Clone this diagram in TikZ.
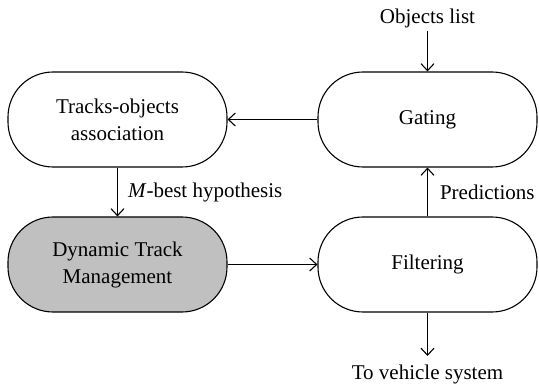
\documentclass[tikz,border=0pt]{standalone}
\usepackage{fontspec}
\setmainfont{Liberation Serif}
\usetikzlibrary{arrows.meta}
\begin{document}
\begin{tikzpicture}[x=1pt,y=-1pt,
  blk/.style={draw, line width=1.1pt, rounded corners=45pt, minimum width=219pt, minimum height=95pt, align=center, inner sep=0pt, font=\fontsize{21}{27}\selectfont},
  lbl/.style={inner sep=0pt, font=\fontsize{21}{27}\selectfont},
  conn/.style={line width=1.1pt, -{Straight Barb[length=7pt,width=13pt,line width=1.1pt]}}
]
\useasboundingbox (0,0) rectangle (539,385);
\node[blk] (assoc) at (117.5,119.5) {Tracks-objects\\association};
\node[blk] (gate) at (427.5,119.5) {Gating};
\node[blk, fill={rgb,255:red,192;green,192;blue,192}] (dtm) at (117.5,264.5) {Dynamic Track\\Management};
\node[blk] (filt) at (427.5,264.5) {Filtering};
\node[lbl, anchor=base] (obj) at (427.5,24) {Objects list};
\coordinate (objend) at (427.5,31);
\node[lbl, anchor=base] (veh) at (427.5,379) {To vehicle system};
\coordinate (vehend) at (427.5,356);
\draw[conn] (objend) -- (gate.north);
\draw[conn] (gate.west) -- (assoc.east);
\draw[conn] (assoc.south) -- node[lbl, right=10pt] {\textit{M}-best hypothesis} (dtm.north);
\draw[conn] (dtm.east) -- (filt.west);
\draw[conn] (filt.north) -- node[lbl, right=12pt] {Predictions} (gate.south);
\draw[conn] (filt.south) -- (vehend);
\end{tikzpicture}
\end{document}
